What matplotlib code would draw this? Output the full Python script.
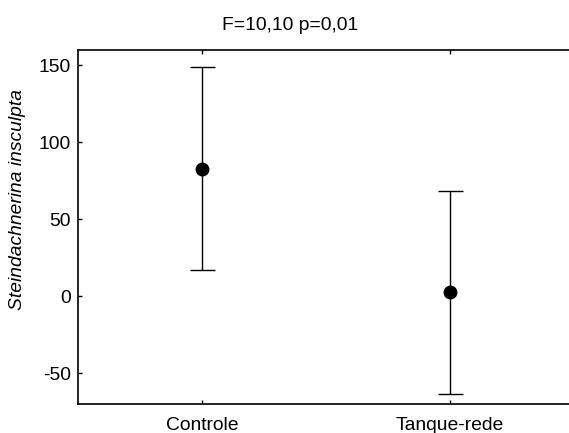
import numpy as np
import matplotlib
matplotlib.use("Agg")
import matplotlib.pyplot as plt

plt.rcParams['font.family'] = ['Liberation Sans', 'DejaVu Sans']

groups = ["Controle", "Tanque-rede"]
means = [82.8, 2.5]
errors = [65.9, 65.9]
yticks = [-50, 0, 50, 100, 150]

fig = plt.figure(figsize=(5.69, 4.33), dpi=100)
ax = fig.add_axes([78/569, 1 - 404/433, 1 - 78/569, (404 - 50)/433])

x = np.arange(len(groups))
ax.errorbar(x, means, yerr=errors, fmt='o', color='black', ecolor='black',
            elinewidth=1.0, capsize=9, capthick=1.0, markersize=9)

ax.set_xlim(-0.5, 1.48)
ax.set_ylim(-70, 160)
ax.set_xticks(x)
ax.set_xticklabels(groups, fontsize=13.9)
ax.set_yticks(yticks)
ax.set_yticklabels([str(v) for v in yticks], fontsize=13.9)
ax.tick_params(direction='in', length=3, width=1, top=True, right=False, pad=5)
ax.tick_params(axis='x', pad=9)
ax.spines['right'].set_visible(False)
for s in ['left', 'top', 'bottom']:
    ax.spines[s].set_linewidth(1.2)

fig.text(290/569, 1 - 25/433, "F=10,10 p=0,01", ha='center', va='center', fontsize=13.9)
fig.text(18/569, 1 - 200/433, "Steindachnerina insculpta", rotation=90,
         ha='center', va='center', fontsize=13.9, style='italic')

fig.savefig("out.png", dpi=100)
